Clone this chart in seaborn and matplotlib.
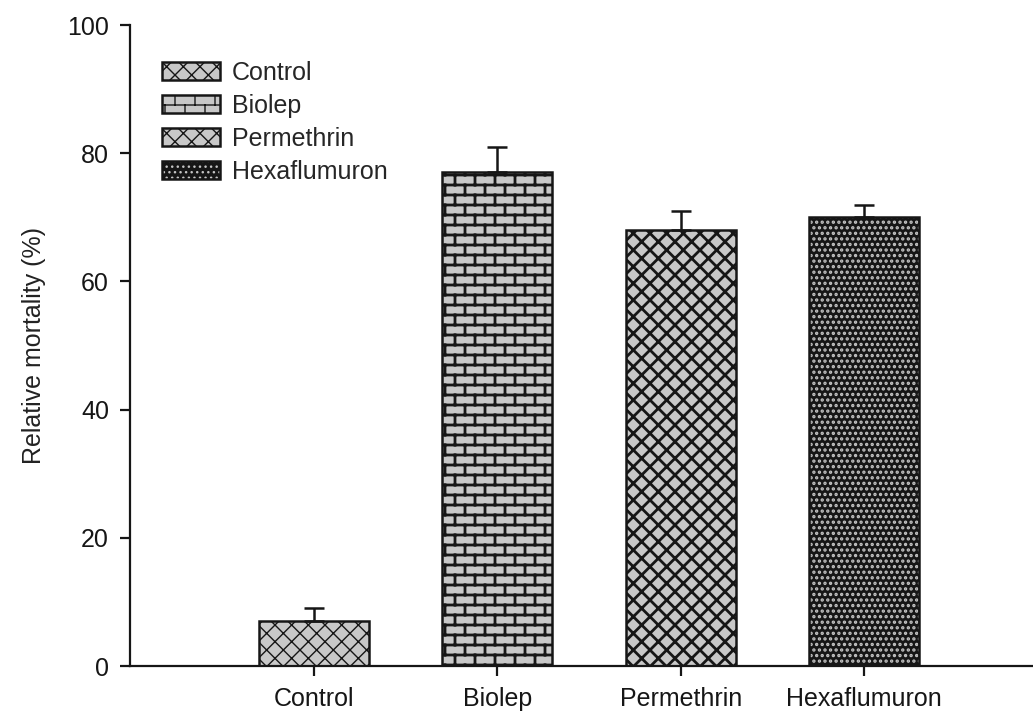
import numpy as np
import pandas as pd
import matplotlib
matplotlib.use("Agg")
import matplotlib.pyplot as plt
import matplotlib.hatch as mhatch
from matplotlib.path import Path
from matplotlib.colors import to_rgba
import seaborn as sns

# data
treatments = ["Control", "Biolep", "Permethrin", "Hexaflumuron"]
mortality = [7, 77, 68, 70]
mortality_err = [2, 4, 3, 2]
y_ticks = [0, 20, 40, 60, 80, 100]

face_colors = ["#c8c8c8", "#c8c8c8", "#c8c8c8", "#161616"]
hatches = ["xx", "|-", "xx", "..."]
hatch_widths = [1.0, 2.0, 2.0, 1.6]


# brick pattern: matplotlib has none, so hook "|-" to a brick tile
def brick_path(rows=10, cols=5):
    segs = []
    hs = [(k + 0.5) / rows for k in range(rows)]
    for h in hs:
        segs.append(((0, h), (1, h)))
    for k in range(rows):
        y0 = hs[k]
        y1 = hs[k] + 1 / rows
        for j in range(cols):
            x = (j + 0.25 + 0.5 * (k % 2)) / cols
            if y1 <= 1:
                segs.append(((x, y0), (x, y1)))
            else:
                segs.append(((x, y0), (x, 1)))
                segs.append(((x, 0), (x, y1 - 1)))
    verts = np.array([p for s in segs for p in s], dtype=float)
    codes = np.tile([Path.MOVETO, Path.LINETO], len(segs)).astype(Path.code_type)
    return Path(verts, codes)


_orig_get_path = mhatch.get_path


def _get_path(hatchpattern, density=6):
    if hatchpattern == "|-":
        return brick_path()
    return _orig_get_path(hatchpattern, density)


mhatch.get_path = _get_path

sns.set_style("ticks")
plt.rcParams["font.family"] = ["Liberation Sans", "DejaVu Sans"]
plt.rcParams["hatch.color"] = "#161616"

fig = plt.figure(figsize=(10.33, 7.13), dpi=100)
ax = fig.add_axes([0.1263, 0.0659, 0.8737, 0.899])

df = pd.DataFrame({"treatment": treatments, "mortality": mortality})
sns.barplot(data=df, x="treatment", y="mortality", hue="treatment",
            palette=dict(zip(treatments, face_colors)), legend=False,
            width=0.6, saturation=1, errorbar=None,
            edgecolor="#161616", linewidth=1.8, ax=ax)

bars = ax.patches[:len(treatments)]
for p, h, hw in zip(bars, hatches, hatch_widths):
    p.set_hatch(h)
    if hasattr(p, "set_hatch_linewidth"):
        p.set_hatch_linewidth(hw)
    else:
        p._hatch_linewidth = hw
# light dots on the dark bar
dot_color = to_rgba("#c4c4c4")
if hasattr(bars[3], "set_hatchcolor"):
    bars[3].set_hatchcolor(dot_color)
else:
    bars[3]._hatch_color = dot_color

# one-sided (upper) error bars
xc = [p.get_x() + p.get_width() / 2 for p in bars]
ax.errorbar(xc, mortality, yerr=[np.zeros(len(mortality)), mortality_err],
            fmt="none", ecolor="#161616", elinewidth=1.8, capsize=7,
            capthick=1.8, zorder=5)

ax.set_xlim(-1.0, 3.92)
ax.set_ylim(0, 100)
ax.set_yticks(y_ticks)
ax.set_xlabel("")
ax.set_ylabel("Relative mortality (%)", fontsize=18, color="#222222", labelpad=15)
ax.tick_params(axis="both", direction="out", length=7, width=1.6,
               labelsize=18, colors="#161616", pad=8.5)
ax.tick_params(axis="x", pad=8)
sns.despine(ax=ax)
for s in ["left", "bottom"]:
    ax.spines[s].set_linewidth(1.6)
    ax.spines[s].set_color("#161616")

ax.legend(handles=bars, labels=treatments, loc="upper left",
          bbox_to_anchor=(0.035, 0.944), frameon=False, fontsize=18,
          handlelength=2.3, handleheight=0.75, handletextpad=0.5,
          labelspacing=0.36, borderpad=0, borderaxespad=0)

fig.savefig("out.png", dpi=100)
